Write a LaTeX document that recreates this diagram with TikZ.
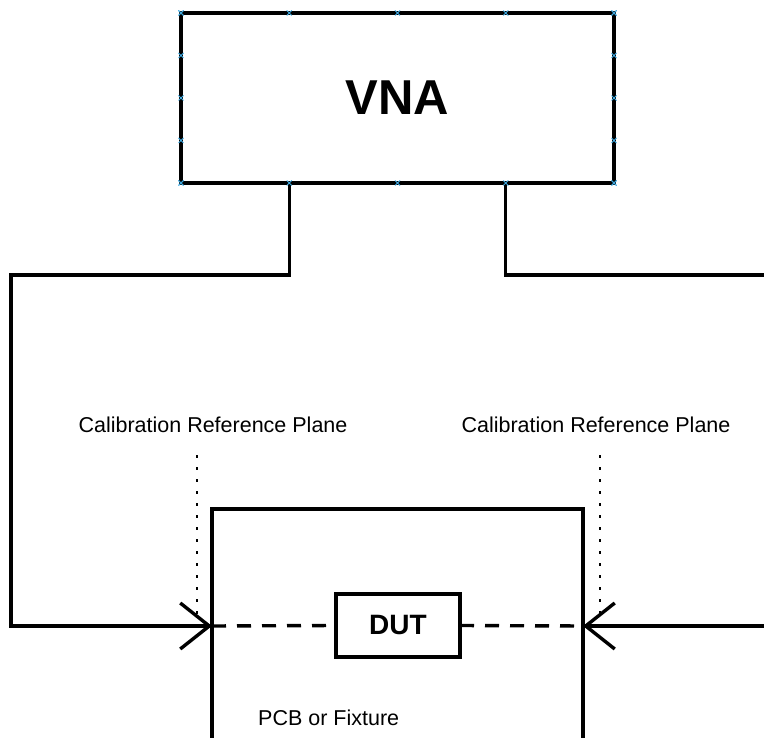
\documentclass[tikz,border=0pt]{standalone}
\usepackage{fontspec}
\setmainfont{Liberation Sans}
\usetikzlibrary{arrows.meta,calc}
\definecolor{ptblue}{HTML}{3FA9E0}
\begin{document}
\begin{tikzpicture}[x=1pt,y=-1pt,
  box/.style={draw=black,line width=3.4pt,outer sep=0pt,inner sep=0pt,fill=white},
  wire/.style={draw=black,line width=3.4pt},
  barb/.style={-{Straight Barb[length=29pt,width=46pt,line width=3.4pt]}},
  dashwire/.style={wire,dash pattern=on 14pt off 11pt},
  dotwire/.style={draw=black,line width=2.8pt,dash pattern=on 2.8pt off 9.2pt},
  lbl/.style={font=\fontsize{21.5}{26}\selectfont,inner sep=0pt},
  pt/.style={draw=ptblue,line width=1pt}]
\useasboundingbox (0,0) rectangle (764,738);
\clip (0,0) rectangle (764,738);
\fill[white] (0,0) rectangle (764,738);
% VNA
\node[box,minimum width=433pt,minimum height=170pt,font=\bfseries\fontsize{49}{56}\selectfont] (vna) at (397.5,98) {VNA};
% PCB
\node[box,minimum width=371pt,minimum height=260pt,anchor=north west] (pcb) at (212,509) {};
\node[lbl,anchor=west] (pcbl) at (258,718) {PCB or Fixture};
% DUT
\node[box,minimum width=124pt,minimum height=63pt,font=\bfseries\fontsize{28}{32}\selectfont] (dut) at (398,625.5) {DUT};
% ports
\coordinate (lp) at ($(vna.south west)!0.25!(vna.south east)$);
\coordinate (rp) at ($(vna.south west)!0.75!(vna.south east)$);
\coordinate (lbend) at (11,275);
\coordinate (rbend) at (775,275);
\coordinate (rin) at (775,626);
\coordinate (lref) at (pcb.west |- 0,626);
\coordinate (rref) at (pcb.east |- 0,626);
\draw[wire,barb] (lp) |- (lbend) |- (lref);
\draw[wire] (rp) |- (rbend);
\draw[wire,barb] (rin) -- (rref);
% dashed lines to DUT
\draw[dashwire] (lref) -- (dut.west);
\draw[dashwire] (dut.east) -- (rref);
% reference planes
\node[lbl] (cal1) at (213,425) {Calibration Reference Plane};
\node[lbl] (cal2) at (596,425) {Calibration Reference Plane};
\coordinate (d1a) at (197,455);
\coordinate (d1b) at (197,615);
\coordinate (d2a) at (600,455);
\coordinate (d2b) at (600,615);
\draw[dotwire] (d1a) -- (d1b);
\draw[dotwire] (d2a) -- (d2b);
% connection point marks on VNA box
\foreach \i in {0,0.25,0.5,0.75,1}{
  \foreach \p in {($(vna.north west)!\i!(vna.north east)$),($(vna.south west)!\i!(vna.south east)$),($(vna.north west)!\i!(vna.south west)$),($(vna.north east)!\i!(vna.south east)$)}{
    \draw[pt] \p ++(-2.5,-2.5) -- ++(5,5) ++(-5,0) -- ++(5,-5);
  }
}
\end{tikzpicture}
\end{document}
